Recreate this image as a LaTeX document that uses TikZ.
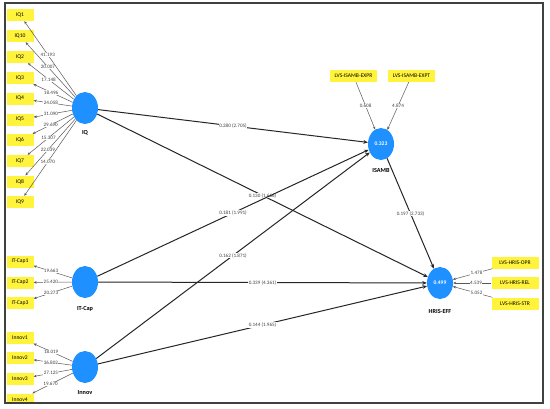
\documentclass[tikz,border=0pt]{standalone}
\usepackage{fontspec}
\setmainfont{Carlito}
\usetikzlibrary{arrows.meta,shapes.geometric}
\definecolor{lvblue}{RGB}{30,144,255}
\definecolor{indyellow}{RGB}{255,243,60}
\begin{document}
\begin{tikzpicture}[x=1pt,y=-1pt,
  lv/.style={ellipse, fill=lvblue, minimum width=26pt, minimum height=32pt, inner sep=0pt, text=white, font=\fontsize{5.5}{6}\selectfont\bfseries},
  indbox/.style={fill=indyellow, minimum width=27pt, minimum height=12pt, inner sep=0pt, font=\fontsize{5.6}{6}\selectfont},
  lvsbox/.style={indbox, minimum width=47pt},
  lvname/.style={font=\fontsize{6.2}{7}\selectfont\bfseries},
  outedge/.style={draw=black!65, line width=0.5pt, -{Stealth[length=3pt,width=2.6pt]}},
  inedge/.style={draw=black!85, line width=1pt, -{Stealth[length=4.5pt,width=3.8pt]}},
  wlab/.style={fill=white, inner sep=0.4pt, font=\fontsize{5.1}{5.5}\selectfont, text=black!75}]
\useasboundingbox (0,0) rectangle (550,408);
\fill[white] (0,0) rectangle (550,408);

% latent variables
\node[lv] (IQ) at (85,108) {};
\node[lvname] (IQl) at (85,133) {IQ};
\node[lv] (ITC) at (85,282) {};
\node[lvname] (ITCl) at (85,309) {IT-Cap};
\node[lv] (INN) at (85,367) {};
\node[lvname] (INNl) at (85,393) {Innov};
\node[lv] (ISA) at (381,144) {0.323};
\node[lvname] (ISAl) at (381,170) {ISAMB};
\node[lv] (HRI) at (440,283) {0.499};
\node[lvname] (HRIl) at (440,311) {HRIS-EFF};

% IQ indicators
\node[indbox] (IQ1) at (20,15) {IQ1};
\node[indbox] (IQ10) at (20,36) {IQ10};
\node[indbox] (IQ2) at (20,57) {IQ2};
\node[indbox] (IQ3) at (20,78) {IQ3};
\node[indbox] (IQ4) at (20,98.5) {IQ4};
\node[indbox] (IQ5) at (20,119.5) {IQ5};
\node[indbox] (IQ6) at (20,140) {IQ6};
\node[indbox] (IQ7) at (20,161) {IQ7};
\node[indbox] (IQ8) at (20,181.5) {IQ8};
\node[indbox] (IQ9) at (20,202) {IQ9};

% IT-Cap indicators
\node[indbox] (ITC1) at (20,261.5) {IT-Cap1};
\node[indbox] (ITC2) at (20,282.5) {IT-Cap2};
\node[indbox] (ITC3) at (20,303) {IT-Cap3};

% Innov indicators
\node[indbox] (INN1) at (20,337.5) {Innov1};
\node[indbox] (INN2) at (20,358) {Innov2};
\node[indbox] (INN3) at (20,379) {Innov3};
\node[indbox] (INN4) at (20,399.5) {Innov4};

% ISAMB indicators
\node[lvsbox] (ISAX) at (353.5,76) {LVS-ISAMB-EXPR};
\node[lvsbox] (ISAT) at (411.5,76) {LVS-ISAMB-EXPT};

% HRIS-EFF indicators
\node[lvsbox] (HRO) at (515,262.5) {LVS-HRIS-OPR};
\node[lvsbox] (HRR) at (515,283) {LVS-HRIS-REL};
\node[lvsbox] (HRS) at (515,303.5) {LVS-HRIS-STR};

% outer loadings / weights
\draw[outedge] (IQ) -- node[wlab,pos=0.55]{41.193} (IQ1);
\draw[outedge] (IQ) -- node[wlab,pos=0.55]{20.007} (IQ10);
\draw[outedge] (IQ) -- node[wlab,pos=0.55]{17.148} (IQ2);
\draw[outedge] (IQ) -- node[wlab,pos=0.55]{18.496} (IQ3);
\draw[outedge] (IQ) -- node[wlab,pos=0.55]{24.058} (IQ4);
\draw[outedge] (IQ) -- node[wlab,pos=0.55]{31.090} (IQ5);
\draw[outedge] (IQ) -- node[wlab,pos=0.55]{29.690} (IQ6);
\draw[outedge] (IQ) -- node[wlab,pos=0.55]{15.307} (IQ7);
\draw[outedge] (IQ) -- node[wlab,pos=0.55]{22.039} (IQ8);
\draw[outedge] (IQ) -- node[wlab,pos=0.55]{14.070} (IQ9);

\draw[outedge] (ITC) -- node[wlab,pos=0.55]{19.663} (ITC1);
\draw[outedge] (ITC) -- node[wlab,pos=0.55]{25.420} (ITC2);
\draw[outedge] (ITC) -- node[wlab,pos=0.55]{20.273} (ITC3);

\draw[outedge] (INN) -- node[wlab,pos=0.55]{18.019} (INN1);
\draw[outedge] (INN) -- node[wlab,pos=0.55]{36.802} (INN2);
\draw[outedge] (INN) -- node[wlab,pos=0.55]{27.125} (INN3);
\draw[outedge] (INN) -- node[wlab,pos=0.55]{19.670} (INN4);

\draw[outedge] (ISAX) -- node[wlab]{0.608} (ISA);
\draw[outedge] (ISAT) -- node[wlab]{4.874} (ISA);

\draw[outedge] (HRO) -- node[wlab,pos=0.4]{1.478} (HRI);
\draw[outedge] (HRR) -- node[wlab,pos=0.4]{4.539} (HRI);
\draw[outedge] (HRS) -- node[wlab,pos=0.4]{5.052} (HRI);

% inner model
\draw[inedge] (IQ) -- node[wlab]{0.280 (2.705)} (ISA);
\draw[inedge] (IQ) -- node[wlab]{0.130 (1.666)} (HRI);
\draw[inedge] (ITC) -- node[wlab]{0.181 (1.991)} (ISA);
\draw[inedge] (INN) -- node[wlab]{0.162 (1.871)} (ISA);
\draw[inedge] (ITC) -- node[wlab]{0.339 (4.361)} (HRI);
\draw[inedge] (INN) -- node[wlab]{0.144 (1.965)} (HRI);
\draw[inedge] (ISA) -- node[wlab]{0.197 (2.733)} (HRI);

% frame
\fill[white] (0,403.8) rectangle (550,408);
\draw[black!75, line width=1.5pt] (5,3) rectangle (543,403);
\end{tikzpicture}
\end{document}
